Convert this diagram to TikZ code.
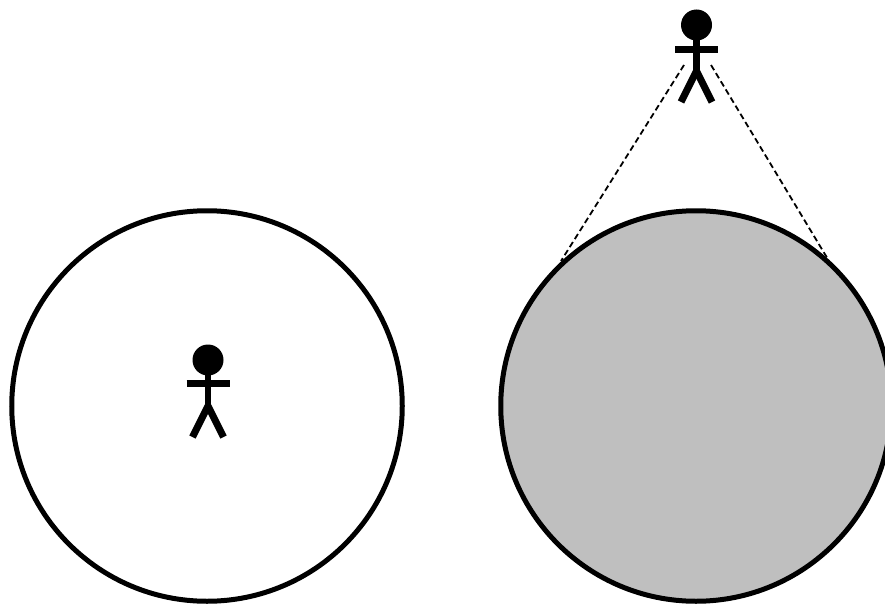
\documentclass[tikz,border=0pt]{standalone}
\begin{document}
\begin{tikzpicture}[x=1pt,y=-1pt,
  ring/.style={circle,draw=black,line width=5pt,minimum size=390.5pt,inner sep=0pt,outer sep=0pt},
  limb/.style={draw=black,line width=7pt},
  sight/.style={draw=black,line width=1.8pt,dash pattern=on 6pt off 3.5pt}]
\useasboundingbox (0,0) rectangle (885,604);
\node[ring,fill=white] (left) at (207,406) {};
\node[ring,fill=black!25] (right) at (696,406) {};
\coordinate (eyeL) at (684,65);
\coordinate (eyeR) at (711,65);
\coordinate (tanL) at (561,261);
\coordinate (tanR) at (829,261);
\draw[sight] (eyeL) -- (tanL);
\draw[sight] (eyeR) -- (tanR);
\foreach \x/\y/\a in {208/360/23,696.5/25/25}{
  \begin{scope}[shift={(\x,\y)}]
  \fill (0,0) circle (15.5);
  \draw[draw=black,line width=6.5pt] (0,10) -- (0,49);
  \draw[limb] (-21.5,\a) -- (21.5,\a);
  \draw[limb] (0,46) -- (-15.5,77);
  \draw[limb] (0,46) -- (15.5,77);
  \end{scope}
}
\end{tikzpicture}
\end{document}
